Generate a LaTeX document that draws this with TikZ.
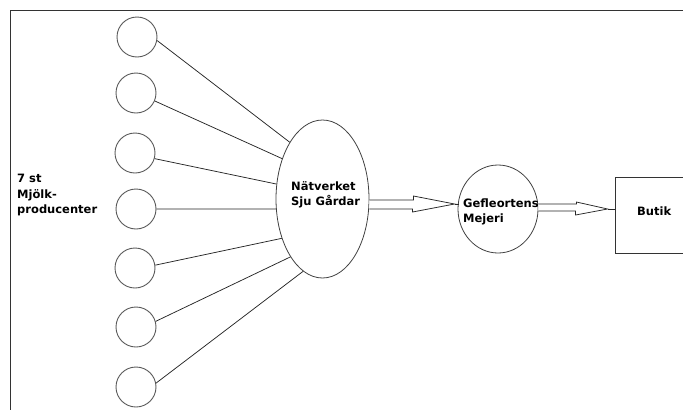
\documentclass[tikz,border=0pt]{standalone}
\usepackage{fontspec}
\setmainfont{DejaVu Sans}
\usetikzlibrary{shapes.geometric,calc}
\begin{document}
\begin{tikzpicture}[x=1pt,y=-1pt,
  src/.style={circle,draw=black!65,line width=0.9pt,minimum size=40pt,inner sep=0pt},
  conn/.style={draw=black!85,line width=0.75pt},
  lbl/.style={font=\fontsize{11.5}{15}\selectfont\bfseries,align=left,inner sep=0pt,anchor=west},
  blockarrow/.style={draw=black!85,line width=0.75pt,fill=white,line join=miter}]
\useasboundingbox (0,0) rectangle (683,410);
\clip (0,0) rectangle (683,410);
% frame
\draw[line width=1.4pt,black!80] (683,10.5) -- (10.5,10.5) -- (10.5,410);
% producers
\node[src] (s1) at (137,37) {};
\node[src] (s2) at (136,93) {};
\node[src] (s3) at (135,153) {};
\node[src] (s4) at (136,209) {};
\node[src] (s5) at (135,268) {};
\node[src] (s6) at (136,327) {};
\node[src] (s7) at (136,387) {};
\node[lbl,font=\fontsize{11.5}{16}\selectfont\bfseries] (prod) at (17,195) {7 st\\Mjölk-\\producenter};
% network
\node[ellipse,draw=black!75,line width=0.8pt,minimum width=93pt,minimum height=158pt,inner sep=0pt] (nv) at (322.5,199) {};
\node[lbl] (nvt) at (291,195) {Nätverket\\Sju Gårdar};
% dairy
\node[ellipse,draw=black!75,line width=0.8pt,minimum width=80pt,minimum height=88pt,inner sep=0pt] (gm) at (498,209) {};
\node[lbl] (gmt) at (463,212) {Gefleortens\\Mejeri};
% shop
\node[rectangle,draw=black!80,line width=0.8pt,minimum width=100pt,minimum height=76pt,inner sep=0pt] (bx) at (665,215) {};
\node[lbl] (bxt) at (637,211) {Butik};
% connectors
\draw[conn] (s1.-10) -- (nv.120);
\draw[conn] (s2.-23) -- (nv.135);
\draw[conn] (s3.-16) -- (nv.162);
\draw[conn] (s4.0) -- (nv.192);
\draw[conn] (s5.8) -- (nv.224);
\draw[conn] (s6.16) -- (nv.241.5);
\draw[conn] (s7.11) -- (nv.255);
% block arrow 1
\coordinate (t1) at ($(gm.west)+(-3,-5)$);
\draw[blockarrow] ($(nv.east)+(0,1)$) -- ++(44,0) -- ++(0,-4) -- (t1) -- ++(-42,8) -- ++(0,-3) -- ($(nv.east)+(0,10)$);
\draw[conn] (t1) -- ++(4,0);
% block arrow 2
\coordinate (t2) at ($(bx.west)+(-7,-6)$);
\draw[blockarrow] ($(gm.east)+(0,-5)$) -- ++(38,0) -- ++(0,-2) -- (t2) -- ++(-32,6) -- ++(0,-4) -- ($(gm.east)+(0,2)$);
\draw[conn] (t2) -- ($(bx.west)+(0,-6)$);
\end{tikzpicture}
\end{document}
